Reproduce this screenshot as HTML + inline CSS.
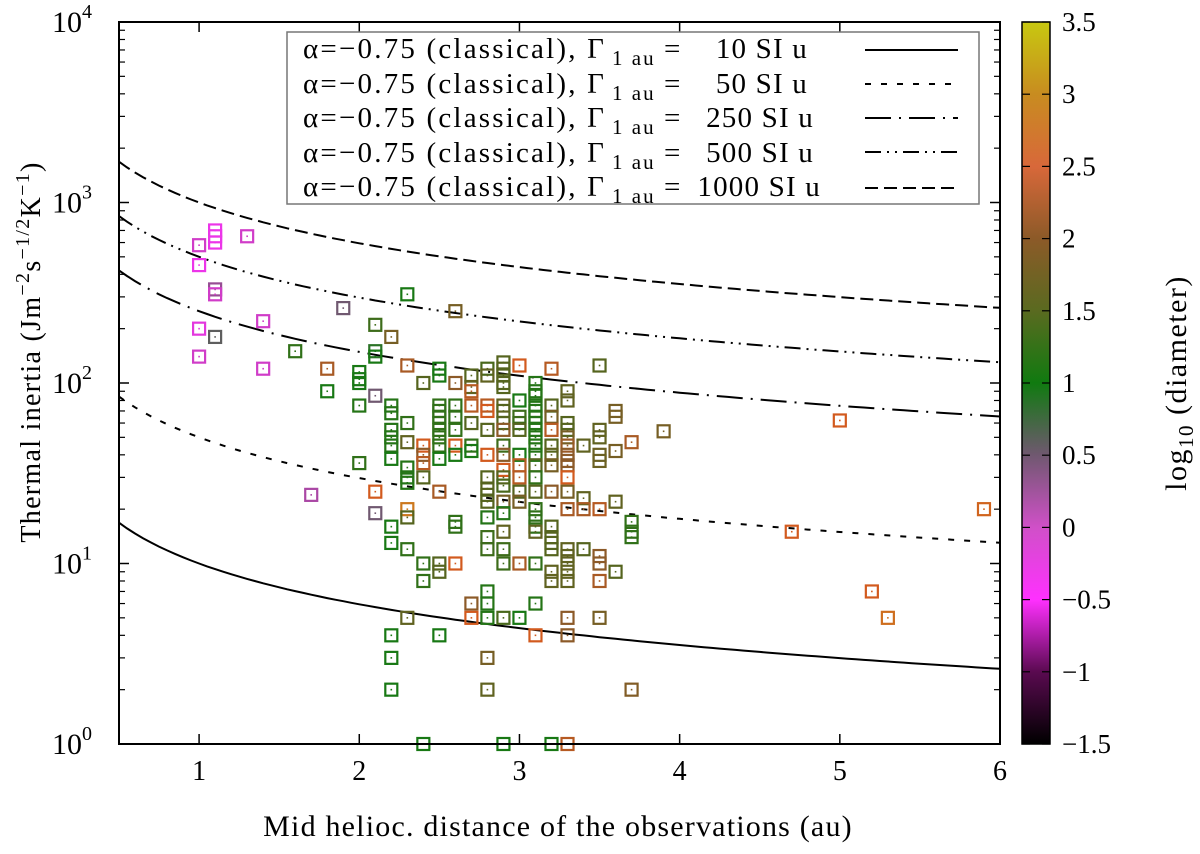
<!DOCTYPE html>
<html><head><meta charset="utf-8">
<style>
body{margin:0;background:#fff}
svg text{font-family:"Liberation Serif","Times New Roman",serif;fill:#000}
</style></head>
<body>
<svg id="c" width="1200" height="849" xmlns="http://www.w3.org/2000/svg">
<defs>
<linearGradient id="cb" x1="0" y1="1" x2="0" y2="0">
<stop offset="0" stop-color="#000000"/>
<stop offset="0.1" stop-color="#5a0a50"/>
<stop offset="0.2" stop-color="#ff30ff"/>
<stop offset="0.3" stop-color="#d050c8"/>
<stop offset="0.4" stop-color="#705870"/>
<stop offset="0.5" stop-color="#107a10"/>
<stop offset="0.6" stop-color="#5a6a20"/>
<stop offset="0.7" stop-color="#8c5a28"/>
<stop offset="0.8" stop-color="#d8683a"/>
<stop offset="0.9" stop-color="#c88c20"/>
<stop offset="1" stop-color="#c8c810"/>
</linearGradient>
</defs>
<g id="marks"></g>
<rect x="119" y="22" width="881" height="722" fill="none" stroke="#000" stroke-width="2"/>
<g id="axes"></g>
<g>
<rect x="287" y="32" width="692" height="172" fill="#fff" stroke="#777" stroke-width="1.5"/>
<g id="legtext"></g>
<g id="legline" stroke="#000" stroke-width="2"></g>
</g>
<rect x="1022" y="22" width="28" height="722" fill="url(#cb)" stroke="#000" stroke-width="1.5"/>
<g id="cbaxis"></g>
<text transform="translate(1186,383) rotate(-90)" text-anchor="middle" font-size="30" letter-spacing="1.5">log<tspan font-size="21" dy="7">10</tspan><tspan dy="-7"> (diameter)</tspan></text>
<text x="558" y="836" text-anchor="middle" font-size="30" letter-spacing="1.2">Mid helioc. distance of the observations (au)</text>
<text transform="translate(40,352) rotate(-90)" text-anchor="middle" font-size="28" letter-spacing="1.3">Thermal inertia (Jm<tspan font-size="20" dy="-11">−2</tspan><tspan dy="11">s</tspan><tspan font-size="20" dy="-11">−1/2</tspan><tspan dy="11">K</tspan><tspan font-size="20" dy="-11">−1</tspan><tspan dy="11">)</tspan></text>
</svg>
<script>
const xTicks=[1,2,3,4,5,6];
const yDecades=[0,1,2,3,4];
const cbTicks=[-1.5,-1,-0.5,0,0.5,1,1.5,2,2.5,3,3.5];
const gammas=[10,50,250,500,1000];
const dashes=["","6,10","26,8,2,8","16,6,2,6,2,6","13,6"];
const pts=[
[1.0,580,0],[1.0,450,-0.3],[1.0,200,-0.2],[1.0,140,0],
[1.1,700,-0.3],[1.1,650,-0.3],[1.1,600,-0.3],[1.1,330,0.3],[1.1,310,0],[1.1,180,0.6],
[1.3,650,0],[1.4,220,0],[1.4,120,0],[1.6,150,1.2],[1.7,24,0.2],[1.8,120,2.2],[1.8,90,1],[1.9,260,0.5],
[2.0,115,1.0],[2.0,105,1.0],[2.0,100,1.0],[2.0,75,1.1],[2.0,36,1.2],
[2.1,210,1.3],[2.1,150,0.9],[2.1,140,1.0],[2.1,85,0.5],[2.1,25,2.5],[2.1,19,0.5],
[2.2,180,1.8],[2.2,75,1.1],[2.2,68,1.1],[2.2,55,1.1],[2.2,50,1.1],[2.2,45,1.1],[2.2,38,1.0],[2.2,16,1.0],[2.2,13,1.0],[2.2,4,1.0],[2.2,3,1.0],[2.2,2,1.0],
[2.3,310,1.0],[2.3,125,2.2],[2.3,60,1.2],[2.3,47,1.6],[2.3,34,1.1],[2.3,30,1.1],[2.3,28,1.1],[2.3,20,2.8],[2.3,18,1.5],[2.3,12,1.2],[2.3,5,1.6],
[2.4,100,1.5],[2.4,45,2.5],[2.4,40,2.0],[2.4,36,2.3],[2.4,30,1.5],[2.4,10,1.2],[2.4,8,1.2],[2.4,1,1.0],
[2.5,120,1.0],[2.5,110,1.0],[2.5,75,1.2],[2.5,70,1.2],[2.5,65,1.2],[2.5,60,1.2],[2.5,55,1.2],[2.5,50,1.2],[2.5,45,1.2],[2.5,38,1.0],[2.5,25,2.2],[2.5,10,1.5],[2.5,9,1.5],[2.5,4,1.0],
[2.6,250,1.8],[2.6,100,2.0],[2.6,75,1.2],[2.6,65,1.2],[2.6,55,1.2],[2.6,45,2.5],[2.6,40,1.0],[2.6,17,1.2],[2.6,16,1.2],[2.6,10,2.5],
[2.7,110,1.5],[2.7,95,1.6],[2.7,90,2.3],[2.7,75,2.3],[2.7,60,1.5],[2.7,45,1.2],[2.7,42,1.0],[2.7,6,2.0],[2.7,5,2.5],
[2.8,120,1.4],[2.8,110,1.6],[2.8,75,2.3],[2.8,70,2.5],[2.8,55,1.5],[2.8,40,2.5],[2.8,30,1.5],[2.8,26,1.5],[2.8,24,1.5],[2.8,22,1.5],[2.8,18,1.1],[2.8,14,1.3],[2.8,12,1.3],[2.8,7,1.1],[2.8,6,1.1],[2.8,5,1.1],[2.8,3,1.8],[2.8,2,1.6],
[2.9,130,1.5],[2.9,120,1.5],[2.9,110,1.5],[2.9,100,1.5],[2.9,95,1.5],[2.9,75,1.6],[2.9,70,1.5],[2.9,60,1.5],[2.9,55,2.0],[2.9,45,1.3],[2.9,40,2.0],[2.9,33,2.5],[2.9,30,1.5],[2.9,27,1.4],[2.9,22,1.8],[2.9,19,1.1],[2.9,15,1.6],[2.9,12,1.3],[2.9,10,1.3],[2.9,5,1.4],[2.9,1,1.0],
[3.0,125,2.5],[3.0,80,1.0],[3.0,65,1.3],[3.0,60,1.3],[3.0,55,1.5],[3.0,40,1.0],[3.0,35,2.3],[3.0,30,2.3],[3.0,25,1.5],[3.0,22,1.8],[3.0,10,2.2],[3.0,5,1.0],
[3.1,100,1.1],[3.1,90,1.1],[3.1,85,1.1],[3.1,75,1.1],[3.1,70,1.1],[3.1,65,1.1],[3.1,60,1.1],[3.1,55,1.1],[3.1,50,1.1],[3.1,45,1.1],[3.1,40,1.1],[3.1,35,1.5],[3.1,30,1.2],[3.1,25,1.5],[3.1,20,1.2],[3.1,18,1.2],[3.1,16,1.2],[3.1,15,1.6],[3.1,10,1.2],[3.1,6,1.1],[3.1,4,2.5],
[3.2,120,2.3],[3.2,75,1.5],[3.2,65,1.8],[3.2,55,2.3],[3.2,45,1.5],[3.2,40,1.6],[3.2,35,1.8],[3.2,25,2.0],[3.2,16,1.5],[3.2,14,1.5],[3.2,13,1.5],[3.2,12,1.5],[3.2,9,1.6],[3.2,8,1.6],[3.2,1,1.0],
[3.3,90,1.6],[3.3,80,1.6],[3.3,60,1.5],[3.3,55,1.5],[3.3,50,1.8],[3.3,45,2.1],[3.3,40,2.0],[3.3,37,2.0],[3.3,35,2.0],[3.3,30,2.5],[3.3,25,1.8],[3.3,20,2.2],[3.3,12,1.6],[3.3,11,1.6],[3.3,10,1.6],[3.3,9,1.6],[3.3,8,1.6],[3.3,5,2.0],[3.3,4,2.0],[3.3,1,2.3],
[3.4,45,1.6],[3.4,23,1.6],[3.4,20,2.2],[3.4,12,1.5],
[3.5,125,1.5],[3.5,55,1.6],[3.5,50,1.6],[3.5,40,1.7],[3.5,37,1.7],[3.5,20,2.3],[3.5,11,2.0],[3.5,10,2.0],[3.5,8,2.2],[3.5,5,1.8],
[3.6,70,1.8],[3.6,65,1.8],[3.6,42,1.8],[3.6,22,1.6],[3.6,9,1.5],
[3.7,47,2.2],[3.7,17,1.2],[3.7,15,1.2],[3.7,14,1.2],[3.7,2,1.9],
[3.9,54,1.8],[4.7,15,2.5],[5.0,62,2.5],[5.2,7,2.5],[5.3,5,2.7],[5.9,20,2.6]
];
const NS="http://www.w3.org/2000/svg";
const X0=119,X1=1000,Y0=744,Y1=22;
const xs=v=>X0+(v-0.5)/5.5*(X1-X0);
const ys=v=>Y0-Math.log10(v)/4*(Y0-Y1);
const cs=v=>Y0-(v+1.5)/5*(Y0-Y1);
const stops=[[-1.5,[0,0,0]],[-1,[90,10,80]],[-0.5,[255,48,255]],[0,[208,60,200]],[0.5,[112,88,112]],[1,[24,120,20]],[1.5,[85,100,30]],[2,[140,90,40]],[2.5,[210,90,30]],[3,[200,140,30]],[3.5,[200,200,16]]];
function col(v){for(let i=0;i<stops.length-1;i++){const a=stops[i],b=stops[i+1];if(v<=b[0]||i==stops.length-2){const t=Math.max(0,Math.min(1,(v-a[0])/(b[0]-a[0])));return 'rgb('+a[1].map((c,k)=>Math.round(c+(b[1][k]-c)*t)).join(',')+')';}}}
function mk(tag,at,parent){const e=document.createElementNS(NS,tag);for(const k in at)e.setAttribute(k,at[k]);parent.appendChild(e);return e;}
const marks=document.getElementById('marks'),axes=document.getElementById('axes');
gammas.forEach((g,i)=>{let d='';for(let r=0.5;r<=6.0001;r+=0.05){d+=(d?'L':'M')+xs(r).toFixed(1)+','+ys(g*Math.pow(r,-0.75)).toFixed(1);}
const p=mk('path',{d:d,fill:'none',stroke:'#000','stroke-width':2,'stroke-dasharray':dashes[i]},marks);

});
pts.forEach(p=>{const cx=xs(p[0]),cy=ys(p[1]),c=col(p[2]);
const g=mk('g',{},marks);


mk('rect',{x:cx-6,y:cy-6,width:12,height:12,fill:'none',stroke:c,'stroke-width':2.2},g);
mk('rect',{x:cx-0.8,y:cy-0.8,width:1.6,height:1.6,fill:c},g);});
xTicks.forEach(t=>{const x=xs(t);mk('line',{x1:x,x2:x,y1:Y0,y2:Y0-10,stroke:'#000','stroke-width':1.5},axes);mk('line',{x1:x,x2:x,y1:Y1,y2:Y1+10,stroke:'#000','stroke-width':1.5},axes);
const tx=mk('text',{x:x,y:780,'text-anchor':'middle','font-size':28},axes);tx.textContent=t;

});
yDecades.forEach(d=>{const y=ys(Math.pow(10,d));mk('line',{x1:X0,x2:X0+10,y1:y,y2:y,stroke:'#000','stroke-width':1.5},axes);mk('line',{x1:X1,x2:X1-10,y1:y,y2:y,stroke:'#000','stroke-width':1.5},axes);
if(d<4)for(let m=2;m<10;m++){const yy=ys(m*Math.pow(10,d));mk('line',{x1:X0,x2:X0+6,y1:yy,y2:yy,stroke:'#000','stroke-width':1.2},axes);mk('line',{x1:X1,x2:X1-6,y1:yy,y2:yy,stroke:'#000','stroke-width':1.2},axes);}
const tx=mk('text',{x:52,y:y+10,'font-size':30},axes);tx.textContent='10';
const s=mk('tspan',{'font-size':20,dy:-14},tx);s.textContent=d;

});
const cba=document.getElementById('cbaxis');
cbTicks.forEach(t=>{const y=cs(t);mk('line',{x1:1022,x2:1030,y1:y,y2:y,stroke:'#000','stroke-width':1.2},cba);mk('line',{x1:1050,x2:1042,y1:y,y2:y,stroke:'#000','stroke-width':1.2},cba);
const tx=mk('text',{x:1062,y:y+9,'font-size':27},cba);tx.textContent=String(t).replace('-','−');

});
const lt=document.getElementById('legtext');
const legY=[58,93,127,162,196];
const legEnd=[808,808,814,814,821];
gammas.forEach((g,i)=>{
const a=mk('text',{x:303,y:legY[i],'font-size':29,'letter-spacing':2.2},lt);
a.textContent='α=−0.75 (classical), Γ';


const s=mk('text',{x:612,y:legY[i]+7,'font-size':21,'letter-spacing':2},lt);s.textContent='1 au';


const e=mk('text',{x:664,y:legY[i],'font-size':29},lt);e.textContent='=';


const v=mk('text',{x:legEnd[i],y:legY[i],'font-size':29,'letter-spacing':1.2,'text-anchor':'end'},lt);v.textContent=g+' SI u';

});
const ll=document.getElementById('legline');
[50,84,118,152,188].forEach((y,i)=>{const l=mk('line',{x1:865,x2:958,y1:y,y2:y,'stroke-dasharray':dashes[i]},ll);

});
</script>
</body></html>
